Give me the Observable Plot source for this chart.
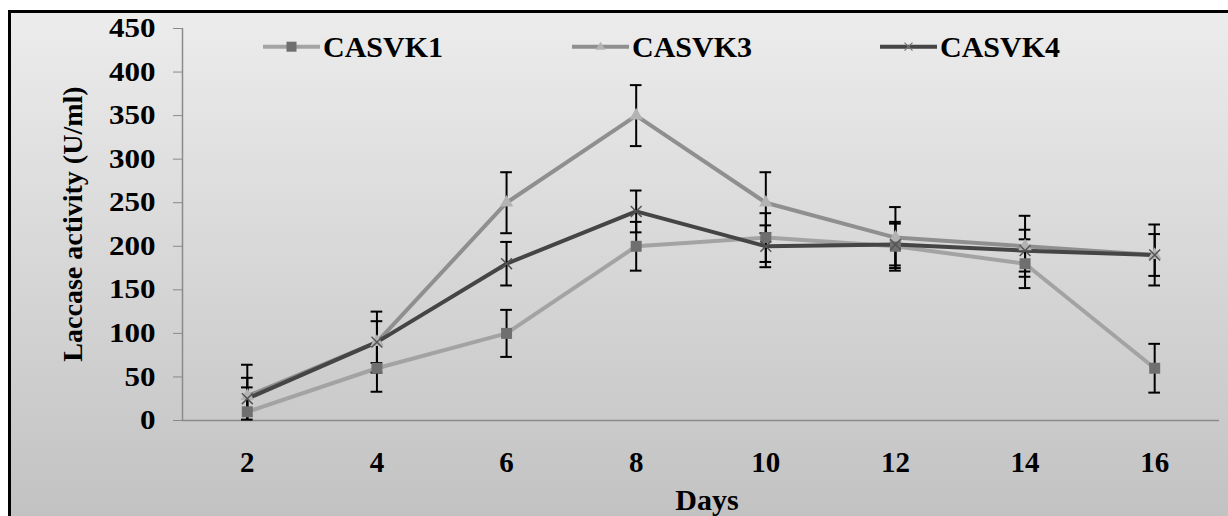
<!DOCTYPE html>
<html><head><meta charset="utf-8">
<script src="https://cdn.jsdelivr.net/npm/d3@7"></script>
<script src="https://cdn.jsdelivr.net/npm/@observablehq/plot@0.6"></script>
<style>
html,body{margin:0;padding:0;background:#fff;overflow:hidden;}
#frame{position:absolute;left:8px;top:10px;width:1230px;height:516px;border-top:3px solid #000;border-left:3px solid #000;background:linear-gradient(to bottom,#ececec,#c1c1c1);}
#chart{position:absolute;left:0;top:0;}
</style></head><body>
<div id="frame"></div><div id="chart"></div>
<script>
// ---- data ----
const days = [2, 4, 6, 8, 10, 12, 14, 16];
const seriesNames = ["CASVK1", "CASVK3", "CASVK4"];
const casvk1 = [10, 60, 100, 200, 210, 200, 180, 60];
const casvk1Err = [28, 27, 27, 28, 28, 28, 28, 28];
const casvk3 = [28, 90, 250, 350, 250, 210, 200, 190];
const casvk3Err = [36, 35, 35, 35, 35, 35, 35, 35];
const casvk4 = [25, 90, 180, 240, 200, 202, 195, 190];
const casvk4Err = [24, 24, 25, 24, 24, 24, 24, 24];
const yTicks = [0, 50, 100, 150, 200, 250, 300, 350, 400, 450];
const xTitle = "Days";
const yTitle = "Laccase activity (U/ml)";

const values = [casvk1, casvk3, casvk4];
const errors = [casvk1Err, casvk3Err, casvk4Err];
const lineColor = {CASVK1: "#a3a3a3", CASVK3: "#8f8f8f", CASVK4: "#454545"};
const font = "'Liberation Serif', 'Times New Roman', serif";

const rows = [];
seriesNames.forEach((s, i) => days.forEach((d, j) => rows.push({
  series: s, day: d, value: values[i][j], err: errors[i][j]
})));
const bySeries = s => rows.filter(r => r.series === s);
const capHalf = 0.09;

const marks = [
  Plot.ruleY([0], {stroke: "#8a8a8a", strokeWidth: 1.5}),
  Plot.ruleX([1], {y1: 0, y2: 450, stroke: "#8a8a8a", strokeWidth: 1.5}),
  Plot.axisY(yTicks, {anchor: "left", tickSize: 9, tickPadding: 18, fontSize: 27, stroke: "#8a8a8a", fill: "#000", label: null}),
  Plot.axisX(days, {anchor: "bottom", tickSize: 0, tickPadding: 31, fontSize: 29, fill: "#000", label: null})
];
seriesNames.forEach(s => marks.push(Plot.line(bySeries(s), {x: "day", y: "value", stroke: lineColor[s], strokeWidth: 4})));
// error bars
marks.push(Plot.ruleX(rows, {x: "day", y1: d => Math.max(0, d.value - d.err), y2: d => d.value + d.err, stroke: "#000", strokeWidth: 2}));
marks.push(Plot.ruleY(rows, {y: d => d.value + d.err, x1: d => d.day - capHalf, x2: d => d.day + capHalf, stroke: "#000", strokeWidth: 2}));
marks.push(Plot.ruleY(rows.filter(d => d.value - d.err >= 0), {y: d => d.value - d.err, x1: d => d.day - capHalf, x2: d => d.day + capHalf, stroke: "#000", strokeWidth: 2}));
// markers
marks.push(Plot.dot(bySeries("CASVK1"), {x: "day", y: "value", symbol: "square", r: 6.2, fill: "#6f6f6f"}));
marks.push(Plot.dot(bySeries("CASVK3"), {x: "day", y: "value", symbol: "triangle", r: 5, fill: "#b3b3b3"}));
marks.push(Plot.dot(bySeries("CASVK4"), {x: "day", y: "value", symbol: "times", r: 5, stroke: "#555", strokeWidth: 1.5}));

const plot = Plot.plot({
  width: 1228, height: 516,
  marginLeft: 182, marginRight: 9, marginTop: 28, marginBottom: 96,
  style: {background: "transparent", fontFamily: font, fontWeight: "bold", color: "#000"},
  x: {type: "linear", domain: [1, 17], axis: null},
  y: {domain: [0, 450], axis: null},
  marks
});

const svg = d3.select(plot);
svg.style("font-weight", "bold").style("font-family", font);
// widen y tick labels (reference glyphs are horizontally stretched)
svg.selectAll('g[aria-label="y-axis tick label"] text').each(function() {
  const t = d3.select(this);
  const tr = t.attr("transform");
  if (tr) t.attr("transform", tr + " scale(1.15,1)");
  else {
    const x = +t.attr("x") || 0, y = +t.attr("y") || 0;
    t.attr("x", null).attr("y", null).attr("transform", `translate(${x},${y}) scale(1.15,1)`);
  }
});
// axis titles
svg.append("text").attr("transform", "translate(81.5,224) rotate(-90)")
  .attr("text-anchor", "middle").attr("font-size", 28).attr("font-weight", "bold")
  .attr("fill", "#000").text(yTitle);
svg.append("text").attr("x", 707).attr("y", 510)
  .attr("text-anchor", "middle").attr("font-size", 30).attr("font-weight", "bold")
  .attr("fill", "#000").text(xTitle);
// legend
const legX = [263, 572, 880];
const legY = 46.7;
const lg = svg.append("g");
seriesNames.forEach((s, i) => {
  const x0 = legX[i];
  lg.append("line").attr("x1", x0).attr("x2", x0 + 57).attr("y1", legY).attr("y2", legY)
    .attr("stroke", lineColor[s]).attr("stroke-width", 4);
  const mx = x0 + 28.5;
  if (s === "CASVK1") {
    lg.append("rect").attr("x", mx - 5).attr("y", legY - 5).attr("width", 10).attr("height", 10).attr("fill", "#6f6f6f");
  } else if (s === "CASVK3") {
    lg.append("path").attr("d", `M${mx},${legY - 5}L${mx + 5},${legY + 3}L${mx - 5},${legY + 3}Z`).attr("fill", "#b3b3b3");
  } else {
    lg.append("path").attr("d", `M${mx - 4},${legY - 4}L${mx + 4},${legY + 4}M${mx + 4},${legY - 4}L${mx - 4},${legY + 4}`).attr("stroke", "#777").attr("stroke-width", 1.2);
  }
  lg.append("text").attr("x", x0 + 60).attr("y", legY + 10).attr("font-size", 30)
    .attr("text-anchor", "start").attr("font-weight", "bold").attr("fill", "#000").text(s);
});
document.getElementById("chart").appendChild(plot);
</script>
</body></html>
